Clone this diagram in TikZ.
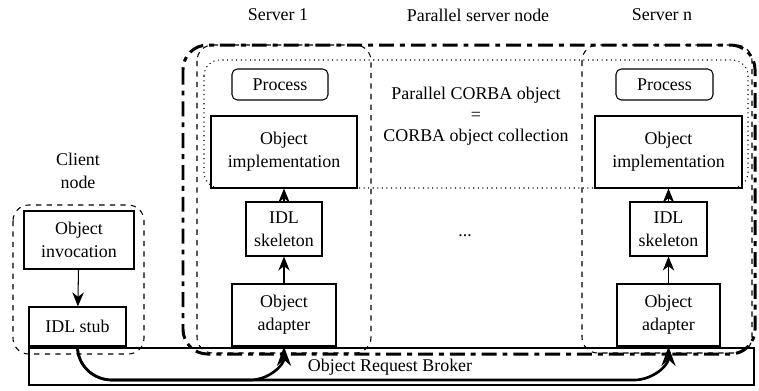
\documentclass[tikz,border=0pt]{standalone}
\usepackage{fontspec}
\setmainfont{Liberation Serif}
\usetikzlibrary{arrows.meta}
\tikzset{
  box/.style={draw, line width=0.6pt, align=center, inner sep=1pt},
  procbox/.style={box, rounded corners=3pt},
  lbl/.style={align=center, inner sep=0pt},
  upar/.style={-{Stealth[length=8pt,width=6.5pt,inset=2.5pt]}, line width=0.6pt},
  orbar/.style={-{Stealth[length=11pt,width=8pt,inset=3.5pt]}, line width=1.5pt},
}
\begin{document}
\begin{tikzpicture}[x=0.02cm,y=-0.02cm,font=\fontsize{10.2}{13}\selectfont]
	\useasboundingbox (0,0) rectangle (759,390);
	% enclosing boxes
	\draw[line width=0.6pt] (29,348) rectangle (754,385);
	\draw[dashed, line width=0.6pt, rounded corners=9pt] (13,205) rectangle (144,354);
	\draw[line width=1.7pt, dash pattern=on 8.5pt off 3.4pt on 2.8pt off 3.4pt, rounded corners=14pt] (183,45) rectangle (755,354);
	\draw[dashed, line width=0.6pt, rounded corners=9pt] (197,45) rectangle (371,353);
	\draw[dashed, line width=0.6pt, rounded corners=9pt] (582,45) rectangle (752,353);
	\draw[dotted, line width=0.6pt, rounded corners=9pt] (204,60) rectangle (748,188);
	% labels
	\node[lbl] (clientlbl) at (78,171) {Client\\node};
	\node[lbl] (srv1lbl) at (278,15) {Server 1};
	\node[lbl] (parlbl) at (478,15) {Parallel server node};
	\node[lbl] (srvnlbl) at (662,15) {Server n};
	\node[lbl] (corbalbl) at (476,116) {Parallel CORBA object\\[-1pt]=\\[-1pt]CORBA object collection};
	\node[lbl] (dots) at (465,236) {...};
	\node[lbl] (orblbl) at (390,367) {Object Request Broker};
	% client
	\node[box, minimum width=110*0.02cm, minimum height=58*0.02cm] (inv) at (79,240) {Object\\invocation};
	\node[box, minimum width=97*0.02cm, minimum height=39*0.02cm] (stub) at (77.5,326.5) {IDL stub};
	% server 1
	\node[procbox, minimum width=96*0.02cm, minimum height=31*0.02cm] (proc1) at (280,84.5) {Process};
	\node[box, minimum width=146*0.02cm, minimum height=72*0.02cm] (impl1) at (284,152) {Object\\implementation};
	\node[box, minimum width=76*0.02cm, minimum height=54*0.02cm] (skel1) at (284,229) {IDL\\skeleton};
	\node[box, minimum width=104*0.02cm, minimum height=62*0.02cm] (adapt1) at (284,315) {Object\\adapter};
	% server n
	\node[procbox, minimum width=97*0.02cm, minimum height=31*0.02cm] (procn) at (664.5,84.5) {Process};
	\node[box, minimum width=147*0.02cm, minimum height=72*0.02cm] (impln) at (668.5,152) {Object\\implementation};
	\node[box, minimum width=77*0.02cm, minimum height=54*0.02cm] (skeln) at (668.5,229) {IDL\\skeleton};
	\node[box, minimum width=103*0.02cm, minimum height=62*0.02cm] (adaptn) at (668.5,315) {Object\\adapter};
	% arrows
	\draw[upar] (inv) -- (stub);
	\draw[upar] (adapt1) -- (skel1);
	\draw[upar] (skel1) -- (impl1);
	\draw[upar] (adaptn) -- (skeln);
	\draw[upar] (skeln) -- (impln);
	\draw[orbar] (stub.south) to[out=-90,in=180] (112,380) -- (250,380) to[out=0,in=-90] (adapt1.south);
	\draw[orbar] (stub.south) to[out=-90,in=180] (112,380) -- (634,380) to[out=0,in=-90] (adaptn.south);
\end{tikzpicture}
\end{document}
